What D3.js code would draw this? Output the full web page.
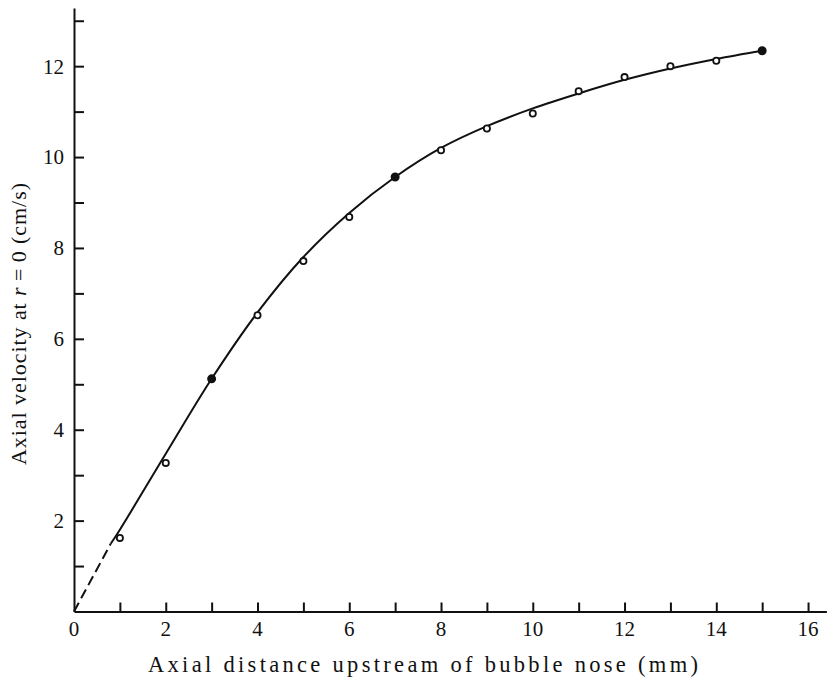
<!DOCTYPE html>
<html>
<head>
<meta charset="utf-8">
<script src="https://cdn.jsdelivr.net/npm/d3@7"></script>
<style>
  html, body { margin: 0; padding: 0; background: #fff; }
  svg { display: block; }
  text { font-family: "Liberation Serif", "Times New Roman", serif; fill: #111; }
</style>
</head>
<body>
<svg id="chart" width="827" height="677"></svg>
<script>
// Measured axial velocity on the axis (r = 0) against distance ahead of the bubble nose
const distance = [1, 2, 3, 4, 5, 6, 7, 8, 9, 10, 11, 12, 13, 14, 15];
const velocity = [1.62, 3.27, 5.12, 6.52, 7.71, 8.68, 9.56, 10.15, 10.63, 10.96, 11.45, 11.76, 12.0, 12.12, 12.34];
// Points drawn solid (the rest are open circles)
const solidPoints = [3, 7, 15];

// Smooth fitted curve through the data
const curveX = [0.8, 1, 2, 3, 4, 5, 6, 7, 8, 9, 10, 11, 12, 13, 14, 15];
const curveY = [1.49, 1.80, 3.47, 5.12, 6.58, 7.80, 8.77, 9.56, 10.20, 10.68, 11.07, 11.40, 11.70, 11.95, 12.16, 12.34];
// Extrapolated part back to the origin
const extrapX = [0, 0.8];
const extrapY = [0, 1.49];

const xTicks = d3.range(1, 17);
const xTickLabels = [0, 2, 4, 6, 8, 10, 12, 14, 16];
const yTicks = d3.range(1, 14);
const yTickLabels = [2, 4, 6, 8, 10, 12];

const xTitle = "Axial distance upstream of bubble nose (mm)";
const yTitleParts = ["Axial velocity at ", "r", "\u2009=\u20090 (cm/s)"];

const svg = d3.select("#chart");

const x = d3.scaleLinear().domain([0, 16.4]).range([74, 826.4]);
const y = d3.scaleLinear().domain([0, 13.28]).range([611.5, 8]);

// Axes
const xAxis = d3.axisBottom(x)
  .tickValues(xTicks)
  .tickSize(-9)
  .tickSizeOuter(0)
  .tickFormat("");
const gx = svg.append("g").attr("transform", `translate(0,${y(0)})`).call(xAxis);

const yAxis = d3.axisLeft(y)
  .tickValues(yTicks)
  .tickSize(-10)
  .tickSizeOuter(0)
  .tickFormat("");
const gy = svg.append("g").attr("transform", `translate(${x(0)},0)`).call(yAxis);

[gx, gy].forEach(g => {
  g.select(".domain").attr("stroke", "#111").attr("stroke-width", 2);
  g.selectAll(".tick line").attr("stroke", "#111").attr("stroke-width", 2);
});

// Tick labels
svg.append("g").selectAll("text")
  .data(xTickLabels)
  .join("text")
  .attr("x", d => x(d))
  .attr("y", 636)
  .attr("text-anchor", "middle")
  .attr("font-size", 21)
  .text(d => d);

svg.append("g").selectAll("text")
  .data(yTickLabels)
  .join("text")
  .attr("x", 64)
  .attr("y", d => y(d))
  .attr("dy", "0.35em")
  .attr("text-anchor", "end")
  .attr("font-size", 21)
  .text(d => d);

// Axis titles
svg.append("text")
  .attr("x", 423)
  .attr("y", 672)
  .attr("text-anchor", "middle")
  .attr("font-size", 22.5)
  .attr("textLength", 550)
  .attr("lengthAdjust", "spacing")
  .text(xTitle);

const yt = svg.append("text")
  .attr("transform", "translate(26,324) rotate(-90)")
  .attr("text-anchor", "middle")
  .attr("font-size", 22)
  .attr("textLength", 282)
  .attr("lengthAdjust", "spacing");
yt.append("tspan").text(yTitleParts[0]);
yt.append("tspan").attr("font-style", "italic").text(yTitleParts[1]);
yt.append("tspan").text(yTitleParts[2]);

// Fitted curve
const line = d3.line()
  .x(d => x(d[0]))
  .y(d => y(d[1]))
  .curve(d3.curveCatmullRom.alpha(0.5));

svg.append("path")
  .datum(curveX.map((v, i) => [v, curveY[i]]))
  .attr("d", line)
  .attr("fill", "none")
  .attr("stroke", "#111")
  .attr("stroke-width", 2);

svg.append("path")
  .datum(extrapX.map((v, i) => [v, extrapY[i]]))
  .attr("d", d3.line().x(d => x(d[0])).y(d => y(d[1])))
  .attr("fill", "none")
  .attr("stroke", "#111")
  .attr("stroke-width", 2)
  .attr("stroke-dasharray", "10,5");

// Data points
svg.append("g").selectAll("circle")
  .data(distance.map((d, i) => ({ d, v: velocity[i] })))
  .join("circle")
  .attr("cx", p => x(p.d))
  .attr("cy", p => y(p.v))
  .attr("r", p => solidPoints.includes(p.d) ? 3.6 : 3.1)
  .attr("fill", p => solidPoints.includes(p.d) ? "#111" : "#fff")
  .attr("stroke", "#111")
  .attr("stroke-width", 1.8);
</script>
</body>
</html>
